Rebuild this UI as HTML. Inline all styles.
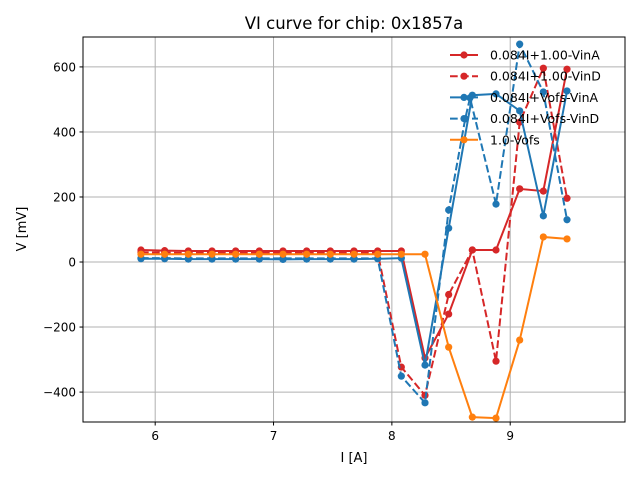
<!DOCTYPE html>
<html><head><meta charset="utf-8">
<style>
body{margin:0;background:#fff;}
svg{display:block;font-family:"DejaVu Sans","Liberation Sans",sans-serif;}
</style></head>
<body>
<svg id="chart" width="640" height="480" viewBox="0 0 640 480">
<rect x="0" y="0" width="640" height="480" fill="#fff"/>
<text x="354" y="29" font-size="16.5" text-anchor="middle" fill="#000">VI curve for chip: 0x1857a</text>
<g id="grid"></g>
<g id="series"></g>
<rect x="83" y="37" width="542" height="385" fill="none" stroke="#000" stroke-width="1"/>
<g id="ticks"></g>
<text x="354" y="462" font-size="13" text-anchor="middle">I [A]</text>
<text x="26" y="229" font-size="13" text-anchor="middle" transform="rotate(-90 26 229)">V [mV]</text>
<g id="legend"></g>
</svg>
<script>
const xTicks=[6,7,8,9];
const yTicks=[-400,-200,0,200,400,600];
const xBase=[5.88,6.08,6.28,6.48,6.68,6.88,7.08,7.28,7.48,7.68,7.88,8.08,8.28,8.48,8.68,8.88,9.08,9.28,9.48];
const redA=[37,35,34,34,34,34,34,34,34,34,34,34,-295,-160,37,37,225,218,593];
const redD=[30,29,28,28,28,28,28,28,28,28,28,-323,-410,-100,37,-305,430,596,196];
const blueA=[10,10,9,9,9,9,8,9,9,9,10,12,-317,104,513,517,465,142,526];
const blueDx=[5.88,6.08,6.28,6.48,6.68,6.88,7.08,7.28,7.48,7.68,7.88,8.08,8.28,8.48,8.62,8.66,8.88,9.08,9.28,9.48];
const blueD=[12,12,11,11,11,11,11,11,11,11,11,-351,-433,160,440,505,178,670,523,130];
const orange=[24,24,24,24,24,24,24,24,24,24,24,24,24,-262,-477,-480,-240,77,71];
const labels=["0.084I+1.00-VinA","0.084I+1.00-VinD","0.084I+Vofs-VinA","0.084I+Vofs-VinD","1.0-Vofs"];
const X0=83,X1=625,Y0=422,Y1=37,xmin=5.39,xmax=9.97,ymin=-492,ymax=692;
function sx(v){return X0+(v-xmin)/(xmax-xmin)*(X1-X0);}
function sy(v){return Y0-(v-ymin)/(ymax-ymin)*(Y0-Y1);}
const NS="http://www.w3.org/2000/svg";
function mk(t,a,p){const e=document.createElementNS(NS,t);for(const k in a)e.setAttribute(k,a[k]);p.appendChild(e);return e;}
const grid=document.getElementById('grid'),ticks=document.getElementById('ticks');
xTicks.forEach(t=>{const x=sx(t);
 const g=mk('line',{x1:x,x2:x,y1:Y1,y2:Y0,stroke:'#b0b0b0','stroke-width':1},grid);
 
 
 const tk=mk('line',{x1:x,x2:x,y1:Y0,y2:Y0+3.5,stroke:'#000','stroke-width':1},ticks);
 
 
 const tx=mk('text',{x:x,y:Y0+18,'font-size':12,'text-anchor':'middle'},ticks);tx.textContent=t;
 
 
});
yTicks.forEach(t=>{const y=sy(t);
 const g=mk('line',{x1:X0,x2:X1,y1:y,y2:y,stroke:'#b0b0b0','stroke-width':1},grid);
 
 
 const tk=mk('line',{x1:X0-3.5,x2:X0,y1:y,y2:y,stroke:'#000','stroke-width':1},ticks);
 
 
 const tx=mk('text',{x:X0-7,y:y+4.5,'font-size':12,'text-anchor':'end'},ticks);tx.textContent=(t<0?'\u2212'+(-t):t);
 
 
});
const series=[
 {xs:xBase,ys:redA,c:'#d62728',d:false,n:'series-red-vina'},
 {xs:xBase,ys:redD,c:'#d62728',d:true,n:'series-red-vind'},
 {xs:xBase,ys:blueA,c:'#1f77b4',d:false,n:'series-blue-vina'},
 {xs:blueDx,ys:blueD,c:'#1f77b4',d:true,n:'series-blue-vind'},
 {xs:xBase,ys:orange,c:'#ff7f0e',d:false,n:'series-orange-vofs'}];
const sg=document.getElementById('series');
series.forEach(s=>{
 const g=mk('g',{},sg);
 
 
 const pts=s.xs.map((x,i)=>sx(x).toFixed(1)+','+sy(s.ys[i]).toFixed(1)).join(' ');
 const a={points:pts,fill:'none',stroke:s.c,'stroke-width':2};
 if(s.d)a['stroke-dasharray']='7.7,3.3';
 const pl=mk('polyline',a,g);
 
 
 s.xs.forEach((x,i)=>{const c=mk('circle',{cx:sx(x),cy:sy(s.ys[i]),r:3.6,fill:s.c},g);
  
  });
});
const lg=document.getElementById('legend');
series.forEach((s,i)=>{const y=55+i*21.2;
 const g=mk('g',{},lg);
 
 
 const a={x1:450,x2:478,y1:y,y2:y,stroke:s.c,'stroke-width':2};
 if(s.d)a['stroke-dasharray']='7.7,3.3';
 mk('line',a,g);
 mk('circle',{cx:464,cy:y,r:3.6,fill:s.c},g);
 const t=mk('text',{x:490,y:y+4.5,'font-size':12.5},g);t.textContent=labels[i];
});
</script>
</body></html>
